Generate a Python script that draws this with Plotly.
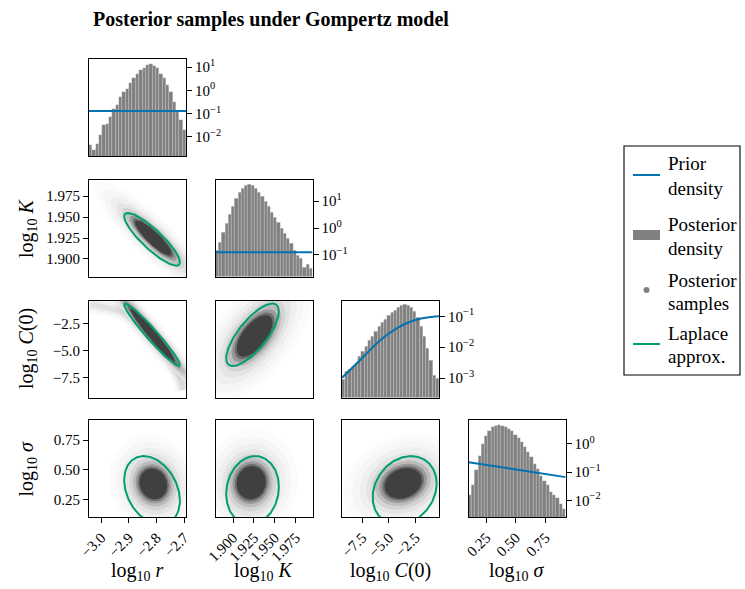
import numpy as np
import plotly.graph_objects as go

W, H = 745, 589
FONT = "Liberation Serif"

# ---------------- data ----------------
RANGE_R = [-3.044, -2.694]
RANGE_K = [1.879, 1.995]
RANGE_C = [-9.4, -0.3]
RANGE_S = [0.10, 0.92]

TICKS_R = [-3.0, -2.9, -2.8, -2.7]
TICKS_K = [1.900, 1.925, 1.950, 1.975]
TICKS_C = [-7.5, -5.0, -2.5]
TICKS_S = [0.25, 0.50, 0.75]
TICKTEXT_R = ["−3.0", "−2.9", "−2.8", "−2.7"]
TICKTEXT_K = ["1.900", "1.925", "1.950", "1.975"]
TICKTEXT_C = ["−7.5", "−5.0", "−2.5"]
TICKTEXT_S = ["0.25", "0.50", "0.75"]

# posterior density histograms (diagonal panels)
hist_r = [0.0047, 0.0028, 0.0051, 0.012, 0.032, 0.037, 0.072, 0.165, 0.23, 0.53,
          0.87, 1.2, 2.0, 3.3, 4.9, 7.5, 9.4, 12.2, 13.0, 11.4,
          8.8, 5.3, 3.3, 1.67, 0.87, 0.32, 0.12, 0.052, 0.019]
hist_K = [0.148, 0.30, 0.71, 1.48, 3.2, 6.2, 12.0, 21.4, 30.2, 36.3,
          42.7, 37.2, 30.2, 21.4, 14.5, 9.5, 6.2, 3.8, 2.4, 1.58,
          1.0, 0.63, 0.41, 0.26, 0.148, 0.095, 0.072, 0.035, 0.043, 0.032]
hist_C = [0.00089, 0.0016, 0.0019, 0.0024, 0.0030, 0.0049, 0.0071, 0.0105, 0.017, 0.022,
          0.032, 0.047, 0.063, 0.081, 0.105, 0.129, 0.158, 0.186, 0.224, 0.24,
          0.224, 0.186, 0.145, 0.089, 0.047, 0.022, 0.0091, 0.0038, 0.0012, 0.0010]
hist_S = [0.015, 0.034, 0.115, 0.39, 1.0, 1.95, 2.95, 3.9, 4.47, 4.57,
          4.47, 3.9, 3.39, 2.82, 2.14, 1.62, 1.15, 0.76, 0.51, 0.34,
          0.195, 0.132, 0.076, 0.048, 0.034, 0.0195, 0.015, 0.0123, 0.0076, 0.0051]

# prior densities
prior_r_x = [-3.044, -2.694]
prior_r_y = [0.13, 0.13]
prior_K_x = [1.879, 1.995]
prior_K_y = [0.125, 0.125]
prior_C_x = [-9.4, -7.38, -5.79, -4.2, -2.61, -1.02, -0.3]
prior_C_y = [0.00102, 0.0049, 0.017, 0.042, 0.074, 0.095, 0.10]
prior_S_x = [0.10, 0.50, 0.92]
prior_S_y = [0.225, 0.125, 0.0667]

# log-scale y ranges of the diagonal panels (log10 units)
HIST_YRANGE = [[-2.82, 1.35], [-1.80, 1.80], [-3.63, -0.49], [-2.59, 0.85]]
HIST_TICKS = [[-2, -1, 0, 1], [-1, 0, 1], [-3, -2, -1], [-2, -1, 0]]

# lower-triangle panels: (row, col)
pairs = [(1, 0), (2, 0), (2, 1), (3, 0), (3, 1), (3, 2)]
# posterior sample cloud (dense core) per panel
cloud_cx = [-2.812, -2.815, 1.9257, -2.812, 1.9217, -3.66]
cloud_cy = [1.925, -3.52, -3.62, 0.38, 0.39, 0.385]
cloud_ax = [0.066, 0.080, 0.0215, 0.050, 0.0175, 1.75]
cloud_ay = [0.0210, 2.5, 1.95, 0.13, 0.141, 0.13]
cloud_rho = [-0.88, -0.97, 0.62, -0.10, 0.05, 0.20]
# Laplace approximation ellipses per panel
lap_cx = [-2.8165, -2.8165, 1.9233, -2.8165, 1.9233, -3.52]
lap_cy = [1.9235, -3.52, -3.52, 0.325, 0.325, 0.325]
lap_ax = [0.1005, 0.1005, 0.0315, 0.1005, 0.0315, 3.0]
lap_ay = [0.0315, 2.93, 2.93, 0.29, 0.29, 0.29]
lap_rho = [-0.87, -0.965, 0.75, -0.30, 0.10, 0.20]
# curved tail of the (r, C(0)) sample cloud
tail_rC_x = [-3.040, -2.968, -2.896, -2.817, -2.752, -2.723, -2.705]
tail_rC_y = [-0.65, -1.06, -1.72, -3.52, -5.41, -7.02, -8.72]

# ---------------- styling ----------------
BLUE = "#0173b2"
GREEN = "#029e73"
HISTGRAY = "#808080"
HALO_SCALES = [3.2, 2.75, 2.35, 2.0, 1.72, 1.48, 1.28, 1.12, 1.0]
HALO_GRAYS = [251, 246, 239, 228, 212, 188, 152, 108, 64]

RANGES = [RANGE_R, RANGE_K, RANGE_C, RANGE_S]
TICKS = [TICKS_R, TICKS_K, TICKS_C, TICKS_S]
TICKTEXT = [TICKTEXT_R, TICKTEXT_K, TICKTEXT_C, TICKTEXT_S]
HISTS = [hist_r, hist_K, hist_C, hist_S]
PRIORS = [(prior_r_x, prior_r_y), (prior_K_x, prior_K_y),
          (prior_C_x, prior_C_y), (prior_S_x, prior_S_y)]

COL_LEFT = [89, 215.5, 342, 468.5]
ROW_TOP = [59, 179.5, 300.5, 420]
SIZE = 97


def px(x):
    return x / W


def py(y):
    return 1 - y / H


def ellipse(cx, cy, ax, ay, rho, k=1.0, n=160):
    t = np.linspace(0, 2 * np.pi, n)
    x = cx + k * ax * np.cos(t)
    y = cy + k * ay * (rho * np.cos(t) + np.sqrt(1 - rho ** 2) * np.sin(t))
    return x, y


fig = go.Figure()
layout = {}
axis_font = dict(family=FONT, size=15, color="black")


def add_axes(idx, row, col):
    xa = "xaxis" if idx == 1 else f"xaxis{idx}"
    ya = "yaxis" if idx == 1 else f"yaxis{idx}"
    x0 = COL_LEFT[col]
    y0 = ROW_TOP[row]
    common = dict(showgrid=False, zeroline=False, showline=True, linecolor="black",
                  linewidth=1.1, mirror=True, tickfont=axis_font, tickcolor="black",
                  ticklen=5, tickwidth=1.1, automargin=False)
    xdict = dict(domain=[px(x0), px(x0 + SIZE)], anchor=f"y{idx}" if idx > 1 else "y",
                 range=RANGES[col], **common)
    if row == 3:
        xdict.update(ticks="outside", tickvals=TICKS[col], ticktext=TICKTEXT[col],
                     tickangle=-45, showticklabels=True)
    else:
        xdict.update(ticks="", showticklabels=False)
    ydict = dict(domain=[py(y0 + SIZE), py(y0)], anchor=f"x{idx}" if idx > 1 else "x", **common)
    if row == col:
        lo, hi = HIST_YRANGE[row]
        ydict.update(type="log", range=[lo, hi], side="right", ticks="outside",
                     tickvals=[10.0 ** e for e in HIST_TICKS[row]],
                     ticktext=[("10<sup>%d</sup>" % e).replace("-", "−") for e in HIST_TICKS[row]])
    else:
        ydict.update(range=RANGES[row])
        if col == 0:
            ydict.update(ticks="outside", tickvals=TICKS[row], ticktext=TICKTEXT[row])
        else:
            ydict.update(ticks="", showticklabels=False)
    layout[xa] = xdict
    layout[ya] = ydict
    return ("x" if idx == 1 else f"x{idx}"), ("y" if idx == 1 else f"y{idx}")


idx = 0
# diagonal histograms
for i in range(4):
    idx += 1
    xr, yr = add_axes(idx, i, i)
    vals = HISTS[i]
    lo, hi = RANGES[i]
    n = len(vals)
    w = (hi - lo) / n
    centers = [lo + w * (k + 0.5) for k in range(n)]
    fig.add_trace(go.Bar(x=centers, y=vals, width=w, marker_color=HISTGRAY,
                         marker_line=dict(color="rgba(255,255,255,0.35)", width=0.5),
                         xaxis=xr, yaxis=yr, showlegend=False))
    pxs, pys = PRIORS[i]
    fig.add_trace(go.Scatter(x=pxs, y=pys, mode="lines", line=dict(color=BLUE, width=2),
                             line_shape="spline", xaxis=xr, yaxis=yr, showlegend=False))

# lower triangle scatter panels
for p, (row, col) in enumerate(pairs):
    idx += 1
    xr, yr = add_axes(idx, row, col)
    for s, g in zip(HALO_SCALES, HALO_GRAYS):
        ex, ey = ellipse(cloud_cx[p], cloud_cy[p], cloud_ax[p], cloud_ay[p], cloud_rho[p], k=s)
        c = f"rgb({g},{g},{g})"
        fig.add_trace(go.Scatter(x=ex, y=ey, mode="lines", fill="toself", fillcolor=c,
                                 line=dict(width=0), xaxis=xr, yaxis=yr, showlegend=False,
                                 hoverinfo="skip"))
        if (row, col) == (2, 0) and s == 2.35:
            for lw, a in [(16, 0.035), (10, 0.05), (5, 0.07)]:
                fig.add_trace(go.Scatter(x=tail_rC_x, y=tail_rC_y, mode="lines",
                                         line=dict(color=f"rgba(60,60,60,{a})", width=lw),
                                         line_shape="spline", xaxis=xr, yaxis=yr,
                                         showlegend=False, hoverinfo="skip"))
    lx, ly = ellipse(lap_cx[p], lap_cy[p], lap_ax[p], lap_ay[p], lap_rho[p])
    fig.add_trace(go.Scatter(x=lx, y=ly, mode="lines", line=dict(color=GREEN, width=2),
                             xaxis=xr, yaxis=yr, showlegend=False))

annotations = []
# title
annotations.append(dict(x=px(271), y=py(20), xref="paper", yref="paper",
                        text="<b>Posterior samples under Gompertz model</b>", showarrow=False,
                        font=dict(family=FONT, size=20, color="black"),
                        xanchor="center", yanchor="middle"))
XTITLES = ["log<sub>10</sub> <i>r</i>", "log<sub>10</sub> <i>K</i>",
           "log<sub>10</sub> <i>C</i>(0)", "log<sub>10</sub> <i>σ</i>"]
for c in range(4):
    annotations.append(dict(x=px(COL_LEFT[c] + SIZE / 2), y=py(571), xref="paper", yref="paper",
                            text=XTITLES[c], showarrow=False,
                            font=dict(family=FONT, size=20, color="black"),
                            xanchor="center", yanchor="middle"))
for r in range(1, 4):
    annotations.append(dict(x=px(27), y=py(ROW_TOP[r] + SIZE / 2), xref="paper", yref="paper",
                            text=XTITLES[r], showarrow=False, textangle=-90,
                            font=dict(family=FONT, size=20, color="black"),
                            xanchor="center", yanchor="middle"))

# legend
shapes = []
shapes.append(dict(type="rect", xref="paper", yref="paper", x0=px(624), x1=px(740),
                   y0=py(375), y1=py(146), line=dict(color="black", width=1.1),
                   fillcolor="white"))
shapes.append(dict(type="line", xref="paper", yref="paper", x0=px(633), x1=px(660),
                   y0=py(175), y1=py(175), line=dict(color=BLUE, width=2)))
shapes.append(dict(type="rect", xref="paper", yref="paper", x0=px(633), x1=px(660),
                   y0=py(240), y1=py(230), line=dict(width=0), fillcolor=HISTGRAY))
shapes.append(dict(type="circle", xref="paper", yref="paper", x0=px(643.5), x1=px(649.5),
                   y0=py(293), y1=py(287), line=dict(width=0), fillcolor=HISTGRAY))
shapes.append(dict(type="line", xref="paper", yref="paper", x0=px(633), x1=px(660),
                   y0=py(344), y1=py(344), line=dict(color=GREEN, width=2)))
LEG_TEXT = [("Prior", 164), ("density", 188), ("Posterior", 224), ("density", 248),
            ("Posterior", 280), ("samples", 303), ("Laplace", 333), ("approx.", 357)]
for t, yy in LEG_TEXT:
    annotations.append(dict(x=px(666), y=py(yy), xref="paper", yref="paper", text=t,
                            showarrow=False, font=dict(family=FONT, size=19, color="black"),
                            xanchor="left", yanchor="middle"))

fig.update_layout(width=W, height=H, margin=dict(l=0, r=0, t=0, b=0),
                  paper_bgcolor="white", plot_bgcolor="white", bargap=0,
                  showlegend=False, annotations=annotations, shapes=shapes, **layout)
fig.write_html("out.html", config={"displayModeBar": False},
               post_script="document.body.style.margin='0';document.body.style.padding='0';")
